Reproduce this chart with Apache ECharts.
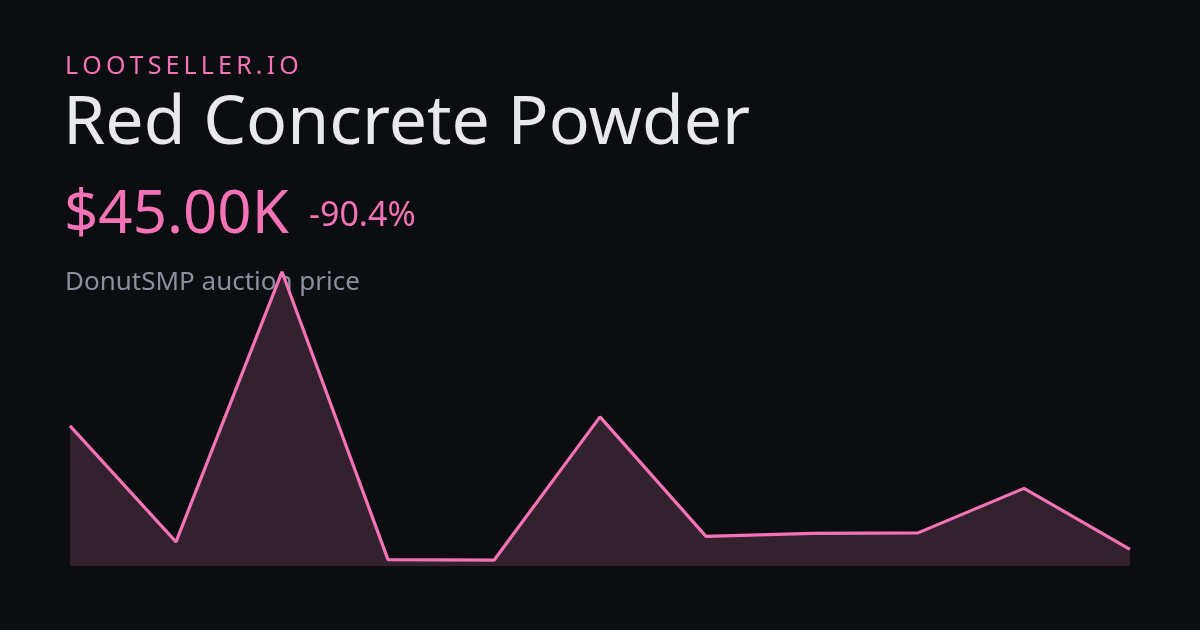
<!DOCTYPE html>
<html>
<head>
<meta charset="utf-8">
<script src="https://cdn.jsdelivr.net/npm/echarts@6/dist/echarts.min.js"></script>
<style>
html,body{margin:0;padding:0;background:#0c0d10;}
#chart{width:1200px;height:630px;}
</style>
</head>
<body>
<div id="chart"></div>
<script>
// Data (prices in thousands of dollars)
const days = ['1','2','3','4','5','6','7','8','9','10','11'];
const prices = [470, 71, 1000, 10, 8, 501, 90, 100, 102, 255, 45];
const brand = 'LOOTSELLER.IO';
const itemName = 'Red Concrete Powder';
const priceLabel = '$45.00K';
const changeLabel = '-90.4%';
const subtitle = 'DonutSMP auction price';
const yMin = -12, yMax = 1020;

const pink = '#f472b6';
const font = '"Noto Sans", "Open Sans", sans-serif';

const chart = echarts.init(document.getElementById('chart'));
chart.setOption({
  backgroundColor: '#0c0d10',
  animation: false,
  grid: {left: 70, right: 70, top: 266, bottom: 64},
  xAxis: {type: 'category', data: days, boundaryGap: false, show: false},
  yAxis: {type: 'value', min: yMin, max: yMax, show: false},
  graphic: [
    {type: 'text', left: 65, top: 54, style: {text: brand.split('').join('\u2009'), fill: pink, font: '400 25px ' + font}},
    {type: 'text', left: 63, top: 91, style: {text: itemName, fill: '#e8e9ee', font: '400 68px ' + font}},
    {type: 'text', left: 64, top: 186, style: {text: priceLabel, fill: pink, font: '400 60px ' + font}},
    {type: 'text', left: 309, top: 199, style: {text: changeLabel, fill: pink, font: '400 34px ' + font}},
    {type: 'text', left: 65, top: 270, style: {text: subtitle, fill: '#8b909e', font: '400 26px ' + font}}
  ],
  series: [{
    type: 'line',
    data: prices,
    symbol: 'none',
    lineStyle: {color: pink, width: 3.2},
    areaStyle: {color: '#33212d', opacity: 1, origin: 'start'},
    z: 3
  }]
});
</script>
</body>
</html>
